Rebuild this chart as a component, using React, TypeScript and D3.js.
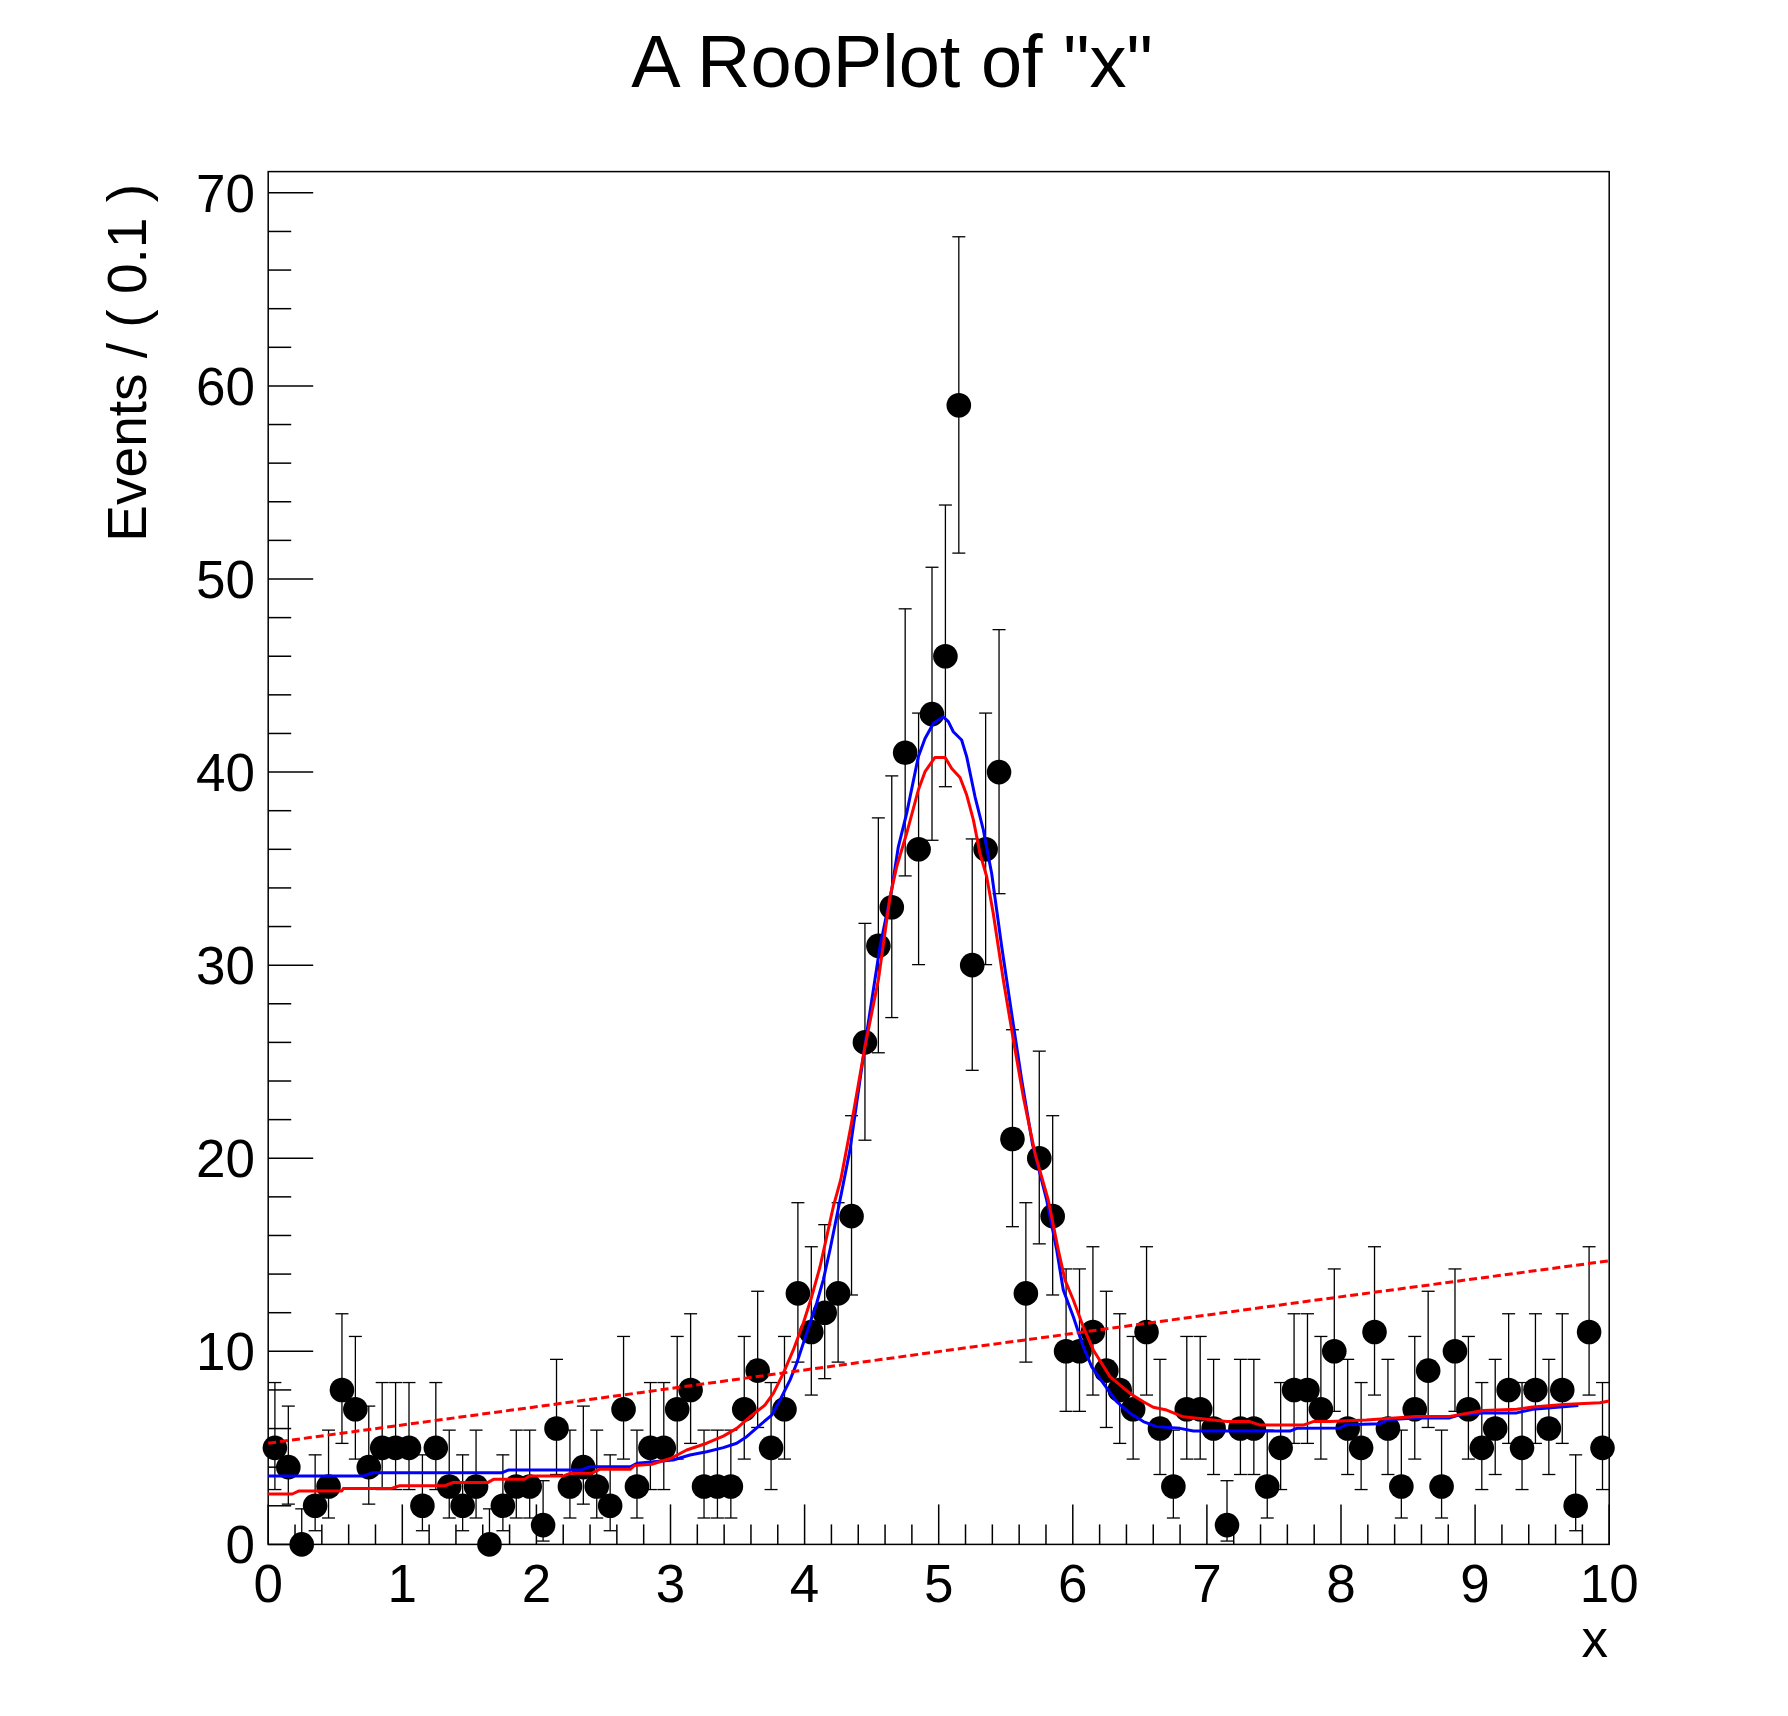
import React from 'react';
import * as d3 from 'd3';

// ---- Data ----
const X_MIN = 0;
const X_MAX = 10;
const N_BINS = 100;
const Y_MAX = 71.1;

const counts: number[] = [
  5, 4, 0, 2, 3, 8, 7, 4, 5, 5,
  5, 2, 5, 3, 2, 3, 0, 2, 3, 3,
  1, 6, 3, 4, 3, 2, 7, 3, 5, 5,
  7, 8, 3, 3, 3, 7, 9, 5, 7, 13,
  11, 12, 13, 17, 26, 31, 33, 41, 36, 43,
  46, 59, 30, 36, 40, 21, 13, 20, 17, 10,
  10, 11, 9, 8, 7, 11, 6, 3, 7, 7,
  6, 1, 6, 6, 3, 5, 8, 8, 7, 10,
  6, 5, 11, 6, 3, 7, 9, 3, 10, 7,
  5, 6, 8, 5, 8, 6, 8, 2, 11, 5,
];

const blueCurve: [number, number][] = [
  [0, 3.54], [0.71, 3.54], [0.78, 3.71], [1.74, 3.71], [1.79, 3.85], [2.33, 3.85],
  [2.4, 4.02], [2.7, 4.02], [2.75, 4.2], [3.02, 4.37], [3.145, 4.63], [3.27, 4.8],
  [3.394, 5.01], [3.494, 5.24], [3.568, 5.58], [3.667, 6.18], [3.755, 6.7], [3.817, 7.48],
  [3.891, 8.51], [3.941, 9.38], [3.99, 10.41], [4.04, 11.45], [4.09, 12.49], [4.139, 13.69],
  [4.189, 15.25], [4.239, 16.97], [4.289, 18.7], [4.338, 20.42], [4.463, 26.47], [4.562, 30.95],
  [4.649, 33.89], [4.699, 36.13], [4.761, 37.86], [4.848, 40.79], [4.898, 41.74], [4.96, 42.52],
  [5.034, 42.86], [5.072, 42.61], [5.109, 42.09], [5.171, 41.66], [5.209, 40.79], [5.271, 38.72],
  [5.333, 37.0], [5.395, 34.75], [5.47, 30.95], [5.544, 27.5], [5.619, 24.05], [5.7, 20.7],
  [5.805, 17.84], [5.88, 15.25], [5.929, 13.18], [6.004, 11.79], [6.078, 10.24], [6.141, 9.2],
  [6.228, 8.34], [6.327, 7.39], [6.427, 6.79], [6.526, 6.36], [6.625, 6.1], [6.799, 6.01],
  [6.899, 5.87], [7.62, 5.87], [7.67, 6.01], [7.99, 6.03], [8.04, 6.2], [8.29, 6.25],
  [8.35, 6.45], [8.55, 6.55], [8.81, 6.55], [8.88, 6.7], [9.06, 6.81], [9.31, 6.81],
  [9.43, 7.0], [9.77, 7.19],
];

const redCurve: [number, number][] = [
  [0, 2.61], [0.18, 2.61], [0.23, 2.77], [0.55, 2.77], [0.56, 2.9], [0.92, 2.9],
  [0.98, 3.04], [1.32, 3.04], [1.38, 3.21], [1.64, 3.21], [1.68, 3.37], [1.91, 3.37],
  [1.95, 3.54], [2.2, 3.54], [2.25, 3.68], [2.41, 3.68], [2.47, 3.89], [2.7, 3.89],
  [2.73, 4.08], [2.86, 4.15], [3.0, 4.45], [3.121, 4.89], [3.27, 5.24], [3.394, 5.61],
  [3.494, 6.01], [3.593, 6.61], [3.705, 7.22], [3.767, 7.82], [3.841, 8.86], [3.916, 10.07],
  [3.99, 11.45], [4.053, 12.83], [4.115, 14.38], [4.165, 15.94], [4.214, 17.49], [4.27, 18.9],
  [4.363, 22.32], [4.45, 25.77], [4.55, 29.23], [4.637, 33.54], [4.687, 35.1], [4.761, 36.83],
  [4.848, 39.07], [4.898, 40.02], [4.972, 40.76], [5.047, 40.76], [5.097, 40.19], [5.159, 39.72],
  [5.209, 38.81], [5.259, 37.51], [5.308, 35.79], [5.358, 34.58], [5.407, 32.68], [5.482, 29.23],
  [5.557, 26.12], [5.631, 23.18], [5.72, 20.2], [5.817, 17.84], [5.892, 15.25], [5.942, 13.69],
  [6.004, 12.66], [6.078, 11.27], [6.153, 10.07], [6.277, 8.69], [6.427, 7.82], [6.526, 7.39],
  [6.6, 7.1], [6.7, 6.96], [6.824, 6.61], [6.998, 6.48], [7.148, 6.36], [7.321, 6.36],
  [7.396, 6.18], [7.719, 6.18], [7.793, 6.36], [7.918, 6.36], [8.19, 6.44], [8.56, 6.63],
  [8.81, 6.63], [9.06, 6.93], [9.31, 7.0], [9.43, 7.12], [9.66, 7.25], [9.93, 7.34],
  [10.0, 7.43],
];

const dashedCurve: [number, number][] = [
  [0, 5.24], [2.773, 7.86], [5.233, 10.21], [5.681, 10.62], [7.694, 12.54], [10, 14.69],
];

const xTickValues = d3.range(0, 11, 1);
const yTickValues = d3.range(0, 71, 10);

const TITLE = 'A RooPlot of "x"';
const X_TITLE = 'x';
const Y_TITLE = 'Events / ( 0.1 )';

// ---- Poisson (Garwood) 68% interval ----
function poissonCdf(k: number, mu: number): number {
  if (k < 0) return 0;
  let term = Math.exp(-mu);
  let sum = term;
  for (let i = 1; i <= k; i++) {
    term *= mu / i;
    sum += term;
  }
  return sum;
}
function solve(f: (mu: number) => number, target: number, lo: number, hi: number): number {
  for (let it = 0; it < 80; it++) {
    const mid = (lo + hi) / 2;
    // f is decreasing in mu
    if (f(mid) > target) lo = mid;
    else hi = mid;
  }
  return (lo + hi) / 2;
}
const ALPHA = (1 - 0.682689) / 2;
function poissonInterval(n: number): [number, number] {
  const hi = solve((mu) => poissonCdf(n, mu), ALPHA, 0, n + 10 * Math.sqrt(n + 1) + 10);
  const lo = n === 0 ? 0 : solve((mu) => poissonCdf(n - 1, mu), 1 - ALPHA, 0, n + 10);
  return [lo, hi];
}

// ---- Layout ----
const W = 1788;
const H = 1716;
const L = 268.2;
const R = 1609.2;
const T = 171.6;
const B = 1544.4;
const FONT = '"Liberation Sans", Arial, Helvetica, sans-serif';

export default function App() {
  const x = d3.scaleLinear().domain([X_MIN, X_MAX]).range([L, R]);
  const y = d3.scaleLinear().domain([0, Y_MAX]).range([B, T]);
  const binW = (X_MAX - X_MIN) / N_BINS;

  const line = d3
    .line<[number, number]>()
    .x((d) => x(d[0]))
    .y((d) => y(d[1]));

  const xMinor = d3.range(0, 51).map((i) => X_MIN + i * 0.2).filter((v) => Math.abs(v - Math.round(v)) > 1e-6);
  const yMinor = d3.range(0, 36).map((i) => i * 2).filter((v) => v % 10 !== 0 && v <= Y_MAX);

  const points = counts.map((n, i) => {
    const xc = X_MIN + (i + 0.5) * binW;
    const [lo, hi] = poissonInterval(n);
    return { xc, n, lo, hi };
  });

  const cap = 6.5;

  return (
    <svg
      width={W}
      height={H}
      viewBox={`0 0 ${W} ${H}`}
      style={{ position: 'absolute', left: 0, top: 0, background: '#fff' }}
      fontFamily={FONT}
    >
      <rect x={0} y={0} width={W} height={H} fill="#fff" />
      {/* Title */}
      <text x={892} y={87} fontSize={74} textAnchor="middle" fill="#000">
        {TITLE}
      </text>

      {/* Frame */}
      <rect x={L} y={T} width={R - L} height={B - T} fill="none" stroke="#000" strokeWidth={1.5} />

      {/* Y ticks */}
      {yTickValues.map((v) => (
        <line key={'ym' + v} x1={L} x2={L + 45} y1={y(v)} y2={y(v)} stroke="#000" strokeWidth={1.5} />
      ))}
      {yMinor.map((v) => (
        <line key={'yn' + v} x1={L} x2={L + 23} y1={y(v)} y2={y(v)} stroke="#000" strokeWidth={1.5} />
      ))}
      {yTickValues.map((v) => (
        <text key={'yl' + v} x={255} y={y(v)} dy="0.36em" fontSize={53} textAnchor="end" fill="#000">
          {v}
        </text>
      ))}

      {/* X ticks */}
      {xTickValues.map((v) => (
        <line key={'xm' + v} x1={x(v)} x2={x(v)} y1={B} y2={B - 40} stroke="#000" strokeWidth={1.5} />
      ))}
      {xMinor.map((v, i) => (
        <line key={'xn' + i} x1={x(v)} x2={x(v)} y1={B} y2={B - 20} stroke="#000" strokeWidth={1.5} />
      ))}
      {xTickValues.map((v) => (
        <text key={'xl' + v} x={x(v)} y={1602} fontSize={53} textAnchor="middle" fill="#000">
          {v}
        </text>
      ))}

      {/* Axis titles */}
      <text x={1608} y={1657} fontSize={53} textAnchor="end" fill="#000">
        {X_TITLE}
      </text>
      <text
        transform={`translate(146, 184) rotate(-90)`}
        fontSize={55}
        textAnchor="end"
        fill="#000"
      >
        {Y_TITLE}
      </text>

      {/* Data error bars */}
      <g stroke="#000" strokeWidth={1.3}>
        {points.map((p, i) => (
          <g key={'e' + i}>
            <line x1={x(p.xc)} x2={x(p.xc)} y1={y(p.lo)} y2={y(p.hi)} />
            <line x1={x(p.xc) - cap} x2={x(p.xc) + cap} y1={y(p.hi)} y2={y(p.hi)} />
            <line x1={x(p.xc) - cap} x2={x(p.xc) + cap} y1={y(p.lo)} y2={y(p.lo)} />
          </g>
        ))}
      </g>
      {/* Markers */}
      <g fill="#000">
        {points.map((p, i) => (
          <circle key={'m' + i} cx={x(p.xc)} cy={y(p.n)} r={12.3} />
        ))}
      </g>

      {/* Curves */}
      <path d={line(blueCurve) || ''} fill="none" stroke="#0000ff" strokeWidth={3} strokeLinejoin="round" />
      <path
        d={line(dashedCurve) || ''}
        fill="none"
        stroke="#ff0000"
        strokeWidth={3}
        strokeDasharray="8 4"
      />
      <path d={line(redCurve) || ''} fill="none" stroke="#ff0000" strokeWidth={3} strokeLinejoin="round" />
    </svg>
  );
}
